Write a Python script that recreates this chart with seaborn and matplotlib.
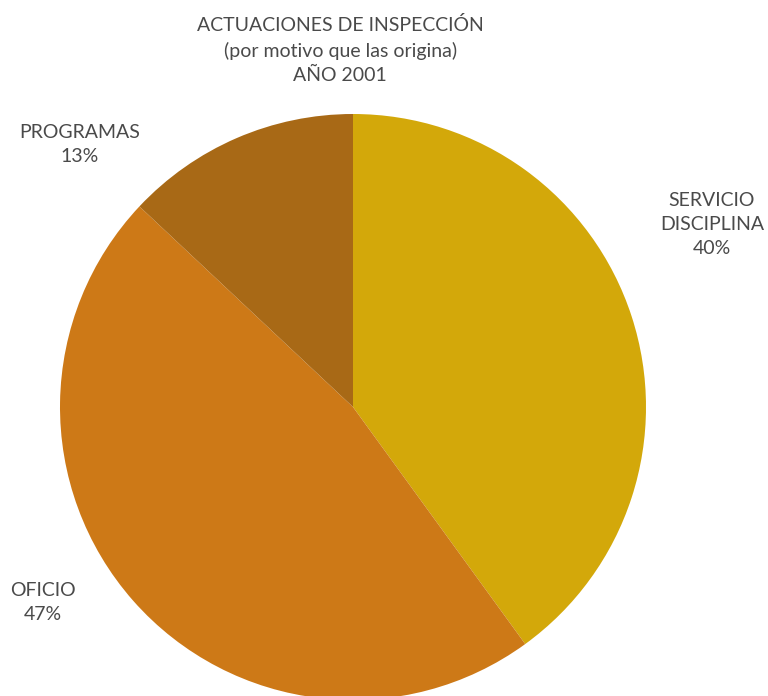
"""
Actuaciones de inspección por motivo que las origina - año 2001
"""

import matplotlib.pyplot as plt
import seaborn as sns

# Datos
categorias = ['SERVICIO\nDISCIPLINA', 'OFICIO', 'PROGRAMAS']
porcentajes = [40, 47, 13]
colores = ['#D3A80A', '#CD7917', '#A86916']

# Posición de cada etiqueta (fracción de figura)
pos_etiquetas = [(0.927, 0.677), (0.056, 0.135), (0.104, 0.793)]

sns.set_theme(style='white')
plt.rcParams['font.family'] = ['Lato', 'DejaVu Sans']

fig = plt.figure(figsize=(7.68, 6.96), dpi=100)
ax = fig.add_axes([60 / 768, -4 / 696, 586 / 768, 586 / 696])

ax.pie(
    porcentajes,
    colors=sns.color_palette(colores),
    startangle=90,
    counterclock=False,
    radius=1.0,
    wedgeprops={'linewidth': 0},
)
ax.set_xlim(-1, 1)
ax.set_ylim(-1, 1)
ax.set_aspect('auto')
ax.axis('off')

texto = '#4a4a4a'
for cat, pct, (x, y) in zip(categorias, porcentajes, pos_etiquetas):
    fig.text(x, y, f'{cat}\n{pct}%', ha='center', va='center',
             fontsize=14, color=texto, linespacing=1.5)

fig.text(0.443, 0.928,
         'ACTUACIONES DE INSPECCIÓN\n(por motivo que las origina)\nAÑO 2001',
         ha='center', va='center', fontsize=14, color=texto,
         linespacing=1.5)

plt.savefig('out.png', dpi=100)
plt.close()
